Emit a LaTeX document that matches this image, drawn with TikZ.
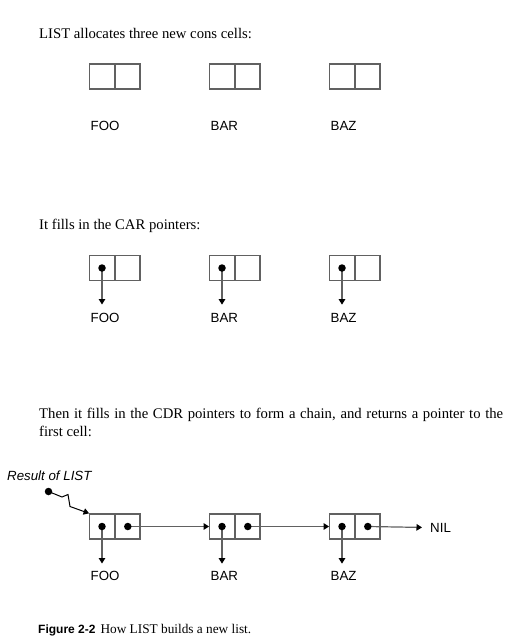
\documentclass[tikz,border=0pt]{standalone}
\usepackage{fontspec}
\setmainfont{Liberation Serif}
\setsansfont{Liberation Sans}
\usetikzlibrary{arrows.meta,positioning}

\tikzset{
  cell/.style={draw=black!62, line width=1.3pt, minimum width=24.5pt, minimum height=25pt, inner sep=0pt},
  lbl/.style={font=\sffamily\fontsize{13.3}{16}\selectfont, anchor=base west, inner sep=0pt},
  txt/.style={font=\fontsize{14.7}{18}\selectfont, anchor=base west, inner sep=0pt},
  ptr/.style={-{Triangle[width=6.5pt,length=5.5pt,color=black]}, line width=1.2pt, draw=black!62},
  dot/.style={circle, fill=black, inner sep=0pt, minimum size=7.5pt},
}

\begin{document}
\begin{tikzpicture}[x=1pt,y=-1pt]
            \useasboundingbox (0,0) rectangle (527,642);

            % first step: empty cells
            \node[txt] (step1) at (39,38) {LIST allocates three new cons cells:};
            \foreach \n/\x/\t in {foo/102/FOO,bar/222/BAR,baz/342/BAZ}{
              \node[cell] (\n1car) at (\x,76.5) {};
              \node[cell, right=0pt of \n1car] (\n1cdr) {};
              \node[lbl] (\n1) at (\x-11.5,130) {\t};
            }

            % second step: car pointers
            \node[txt] (step2) at (39,229) {It fills in the CAR pointers:};
            \foreach \n/\x/\t in {foo/102/FOO,bar/222/BAR,baz/342/BAZ}{
              \node[cell] (\n2car) at (\x,268) {};
              \node[cell, right=0pt of \n2car] (\n2cdr) {};
              \node[lbl] (\n2) at (\x-11.5,322) {\t};
              \draw[ptr, shorten >=8pt] (\n2car.center) -- (\n2car.center |- \n2.north);
              \node[dot] (\n2dot) at (\n2car.center) {};
            }

            % third step: cdr pointers form the chain
            \node[txt, anchor=north west, text width=464pt, align=justify] (step3) at (39,407.5)
              {Then it fills in the CDR pointers to form a chain, and returns a pointer to the first cell:};
            \foreach \n/\x/\t in {foo/102/FOO,bar/222/BAR,baz/342/BAZ}{
              \node[cell] (\n3car) at (\x,526.5) {};
              \node[cell, right=0pt of \n3car] (\n3cdr) {};
              \node[lbl] (\n3) at (\x-11.5,580) {\t};
              \draw[ptr, shorten >=7pt] (\n3car.center) -- (\n3car.center |- \n3.north);
            }
            \node[lbl] (nil) at (430,532) {NIL};
            \draw[ptr] (foo3cdr.center) -- (bar3car.west);
            \draw[ptr] (bar3cdr.center) -- (baz3car.west);
            \draw[ptr] (baz3cdr.center) -- ([xshift=-8pt]nil.west);
            \foreach \n in {foo,bar,baz}{
              \node[dot] (\n3cardot) at (\n3car.center) {};
              \node[dot] (\n3cdrdot) at (\n3cdr.center) {};
            }

            % result pointer
            \node[lbl, font=\sffamily\itshape\fontsize{13.3}{16}\selectfont] (result) at (7,480) {Result of LIST};
            \node[dot] (resdot) at (48.5,491.5) {};
            \draw[ptr, line width=1pt, draw=black] (resdot.center) -- ++(13.5,5.5) -- ++(6,-2.5) -- ++(2,12) -- (foo3car.north west);

            % caption
            \node[lbl, font=\fontsize{13.3}{16}\selectfont] (caption) at (38,633)
              {{\sffamily\bfseries\fontsize{12}{14}\selectfont Figure 2-2}\hspace{5pt}How LIST builds a new list.};
\end{tikzpicture}
\end{document}
